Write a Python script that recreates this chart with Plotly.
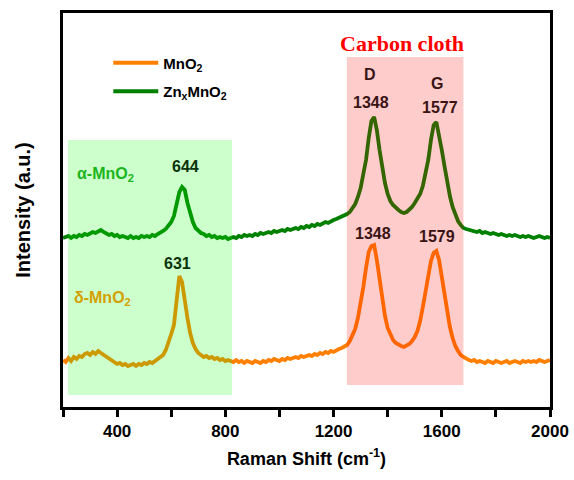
import plotly.graph_objects as go

# Raman shift grid (cm^-1), 10 cm^-1 steps from 200 to 2000
raman_shift = list(range(200, 2001, 10))

# Intensities (a.u.)
mno2 = [
    40, 38, 42, 39, 43, 41, 44, 43, 46, 47,   # 200-290
    45, 48, 46, 49, 47, 45, 43, 41, 39, 38,   # 300-390
    36, 37, 35, 36, 34, 35, 36, 34, 36, 35,   # 400-490
    37, 36, 38, 37, 39, 40, 42, 45, 50, 57,   # 500-590
    66, 75, 100, 124, 118, 98, 82, 67, 57, 51,  # 600-690
    47, 45, 43, 44, 42, 43, 41, 42, 40, 41,   # 700-790
    39, 40, 39, 38, 40, 38, 39, 37, 39, 38,   # 800-890
    37, 39, 38, 37, 39, 38, 40, 39, 41, 40,   # 900-990
    39, 41, 40, 42, 41, 42, 43, 42, 44, 43,   # 1000-1090
    44, 45, 44, 46, 45, 47, 46, 48, 47, 49,   # 1100-1190
    48, 50, 51, 52, 53, 55, 59, 64, 71, 82,   # 1200-1290
    96, 113, 132, 148, 154, 155, 140, 120, 100, 84,  # 1300-1390
    72, 65, 60, 57, 55, 54, 53, 54, 56, 59,   # 1400-1490
    63, 69, 79, 93, 109, 125, 139, 147, 149, 140,  # 1500-1590
    124, 106, 88, 73, 62, 54, 49, 45, 43, 41,  # 1600-1690
    40, 39, 40, 38, 39, 38, 37, 39, 38, 37,   # 1700-1790
    39, 38, 37, 38, 39, 37, 38, 39, 38, 37,   # 1800-1890
    39, 38, 39, 38, 39, 38, 40, 39, 38, 39,   # 1900-1990
    40,                                       # 2000
]

znx_mno2 = [
    162, 163, 164, 162, 164, 163, 165, 164, 166, 165,  # 200-290
    167, 168, 167, 169, 170, 168, 167, 165, 166, 164,  # 300-390
    165, 163, 164, 163, 162, 164, 162, 163, 162, 164,  # 400-490
    163, 164, 163, 165, 164, 166, 167, 169, 171, 174,  # 500-590
    178, 184, 197, 208, 213, 210, 197, 186, 178, 172,  # 600-690
    169, 167, 166, 164, 165, 163, 164, 162, 163, 162,  # 700-790
    163, 161, 162, 163, 162, 164, 163, 165, 164, 165,  # 800-890
    164, 166, 165, 167, 166, 167, 168, 167, 169, 168,  # 900-990
    169, 170, 169, 171, 170, 171, 172, 171, 173, 172,  # 1000-1090
    174, 173, 175, 174, 176, 175, 177, 178, 177, 179,  # 1100-1190
    180, 181, 182, 183, 184, 186, 188, 192, 196, 203,  # 1200-1290
    212, 226, 240, 262, 279, 283, 270, 250, 232, 217,  # 1300-1390
    206, 199, 195, 192, 190, 188, 187, 188, 190, 193,  # 1400-1490
    197, 201, 206, 214, 226, 240, 260, 275, 278, 266,  # 1500-1590
    250, 234, 218, 204, 193, 185, 179, 175, 172, 171,  # 1600-1690
    170, 170, 169, 168, 169, 167, 168, 167, 166, 167,  # 1700-1790
    166, 165, 166, 165, 164, 165, 164, 165, 164, 163,  # 1800-1890
    164, 163, 164, 163, 162, 163, 164, 163, 162, 163,  # 1900-1990
    162,                                               # 2000
]

series_names = ["MnO<sub>2</sub>", "Zn<sub>x</sub>MnO<sub>2</sub>"]
series_colors = ["#ff8000", "#008000"]

x_ticks = [200, 400, 600, 800, 1000, 1200, 1400, 1600, 1800, 2000]
x_tick_labels = ["", "400", "", "800", "", "1200", "", "1600", "", "2000"]

# shaded regions (cm^-1, a.u.)
mn_region = (218, 825, 5, 260)
carbon_region = (1249, 1680, 15, 343)

# peak labels: (text, x, y, colour)
peak_labels = [
    ("644", 651, 234, "#0a330a"),
    ("631", 625, 137, "#0a330a"),
    ("1348", 1340, 298, "#3a1414"),
    ("1577", 1593, 293, "#3a1414"),
    ("1348", 1346, 167, "#3a1414"),
    ("1579", 1582, 164, "#3a1414"),
    ("D", 1335, 326, "#3a1414"),
    ("G", 1582, 317, "#3a1414"),
]

FONT = "Arial, Liberation Sans, sans-serif"

fig = go.Figure()
for name, col, ys, grp in zip(series_names, series_colors, [mno2, znx_mno2], ["a", "b"]):
    fig.add_trace(go.Scatter(
        x=raman_shift, y=ys, mode="lines", name=name, legendgroup=grp,
        line=dict(color=col, width=3.8),
    ))

fig.add_shape(type="rect", xref="x", yref="y",
              x0=mn_region[0], x1=mn_region[1], y0=mn_region[2], y1=mn_region[3],
              fillcolor="rgb(0,255,0)", opacity=0.2, line=dict(width=0), layer="above")
fig.add_shape(type="rect", xref="x", yref="y",
              x0=carbon_region[0], x1=carbon_region[1], y0=carbon_region[2], y1=carbon_region[3],
              fillcolor="rgb(255,0,0)", opacity=0.2, line=dict(width=0), layer="above")

for txt, xx, yy, col in peak_labels:
    fig.add_annotation(x=xx, y=yy, text=f"<b>{txt}</b>", showarrow=False,
                       font=dict(family=FONT, size=16, color=col))

fig.add_annotation(x=1453, y=357, text="<b>Carbon cloth</b>", showarrow=False,
                   font=dict(family="Times New Roman, Liberation Serif, serif", size=22, color="#ff0000"))
fig.add_annotation(x=244, y=226, xanchor="left", text="<b>\u03b1-MnO<sub>2</sub></b>", showarrow=False,
                   font=dict(family=FONT, size=16, color="#1cb41c"))
fig.add_annotation(x=233, y=102, xanchor="left", text="<b>\u03b4-MnO<sub>2</sub></b>", showarrow=False,
                   font=dict(family=FONT, size=16, color="#d4a000"))

fig.update_layout(
    width=574, height=480,
    margin=dict(l=63, r=24, t=13, b=73, autoexpand=False),
    paper_bgcolor="white", plot_bgcolor="white",
    font=dict(family=FONT, color="black"),
    showlegend=True,
    legend=dict(x=0.093, y=0.915, xanchor="left", yanchor="top",
                bgcolor="rgba(0,0,0,0)", tracegroupgap=6, itemwidth=45,
                font=dict(family=FONT, size=15, color="black", weight="bold")),
    xaxis=dict(range=[200, 2000], tickvals=x_ticks, ticktext=x_tick_labels,
               ticks="outside", ticklen=7, tickwidth=2.5, tickcolor="black",
               showline=True, linewidth=3, linecolor="black", mirror=True,
               showgrid=False, zeroline=False, automargin=False,
               tickfont=dict(family=FONT, size=17, color="black", weight="bold"),
               title=dict(text="Raman Shift (cm<sup>-1</sup>)", standoff=12,
                          font=dict(family=FONT, size=18, color="black", weight="bold"))),
    yaxis=dict(range=[-7, 387], showticklabels=False, ticks="",
               showline=True, linewidth=3, linecolor="black", mirror=True,
               showgrid=False, zeroline=False, automargin=False,
               title=dict(text="Intensity (a.u.)", standoff=25,
                          font=dict(family=FONT, size=20, color="black", weight="bold"))),
)

fig.write_html("out.html")
